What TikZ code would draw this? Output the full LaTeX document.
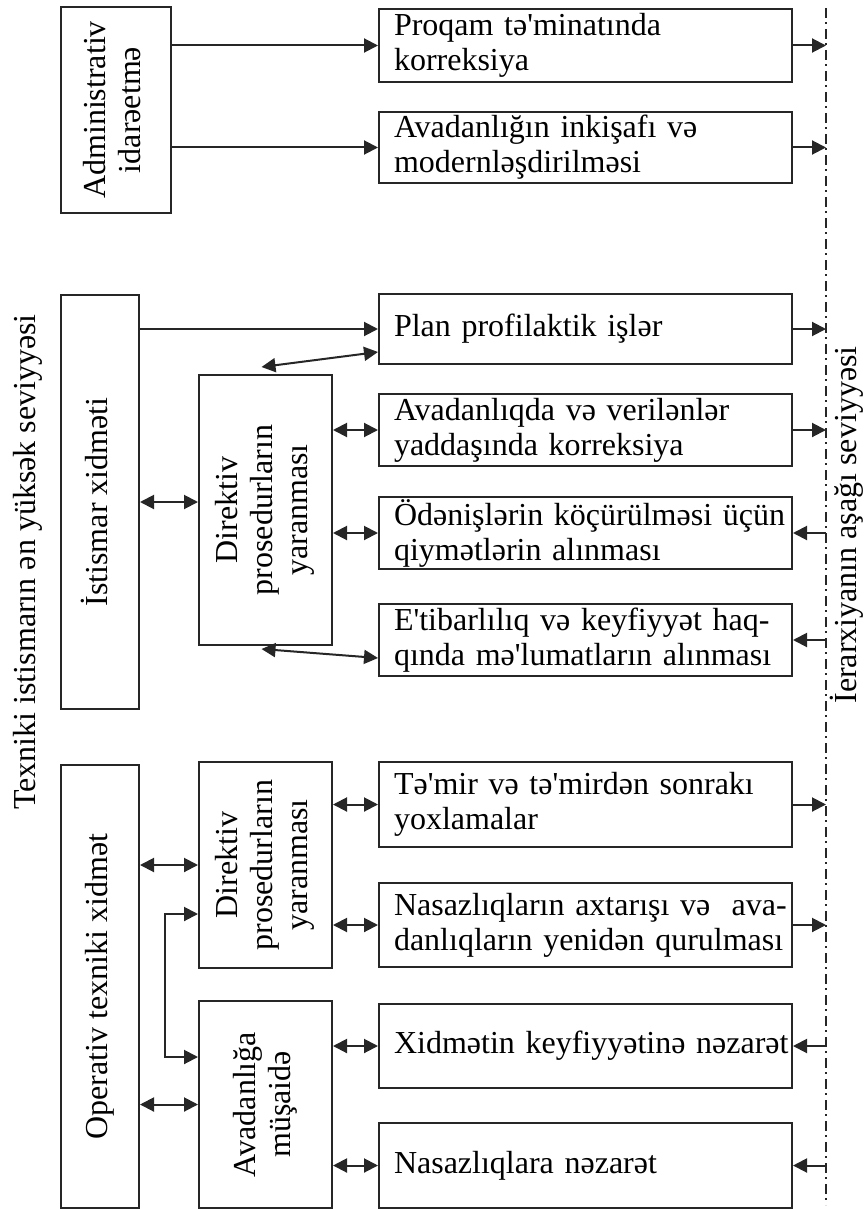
\documentclass[tikz,border=0pt]{standalone}
\usepackage{fontspec}
\usepackage{graphicx}
\setmainfont{Liberation Serif}[Ligatures=TeXOff]
\usetikzlibrary{arrows.meta,calc}
\definecolor{ink}{HTML}{262626}
\newcommand\Ln[1]{\mbox{#1}}
\newcommand\Vt[1]{\rotatebox{90}{\begin{tabular}{@{}c@{}}#1\end{tabular}}}
\begin{document}
\begin{tikzpicture}[x=1pt,y=-1pt,
  font=\fontsize{32}{35}\selectfont,
  box/.style={draw=ink, line width=2pt, inner sep=0pt},
  lbox/.style={box, anchor=north west},
  rbox/.style={box, anchor=north west, minimum width=413pt,
    text width=383pt, inner xsep=15pt, align=left},
  arr/.style={draw=ink, line width=2pt,
    -{Triangle[length=14pt,width=14pt]}},
  darr/.style={draw=ink, line width=2pt,
    {Triangle[length=14pt,width=14pt]}-{Triangle[length=14pt,width=14pt]}},
  level/.style={draw=ink, line width=2pt,
    dash pattern=on 10pt off 4pt on 2pt off 5pt}]
\useasboundingbox (0,0) rectangle (864,1209);

% side labels
\node[rotate=90, inner sep=0pt] (hi) at (28,562) {Texniki istismarın ən yüksək seviyyəsi};
\node[rotate=90, inner sep=0pt] (lo) at (847,525) {İerarxiyanın aşağı seviyyəsi};

% left column
\node[lbox, minimum width=110pt, minimum height=206pt] (adm) at (60,6)
  {\Vt{Administrativ\\idarəetmə}};
\node[lbox, minimum width=78pt, minimum height=414pt] (ist) at (60,294)
  {\Vt{İstismar xidməti}};
\node[lbox, minimum width=78pt, minimum height=443pt] (op) at (60,764)
  {\Vt{Operativ texniki xidmət}};

% middle column
\node[lbox, minimum width=133pt, minimum height=270pt] (dir1) at (198,374)
  {\Vt{Direktiv\\prosedurların\\yaranması}};
\node[lbox, minimum width=133pt, minimum height=206pt] (dir2) at (198,761)
  {\Vt{Direktiv\\prosedurların\\yaranması}};
\node[lbox, minimum width=133pt, minimum height=207pt] (ava) at (198,1000)
  {\Vt{Avadanlığa\\müşaidə}};

% right column
\node[rbox, minimum height=73pt] (r1) at (378,8)
  {\Ln{Proqam tə'minatında}\\korreksiya};
\node[rbox, minimum height=71pt] (r2) at (378,111)
  {\Ln{Avadanlığın inkişafı və}\\modernləşdirilməsi};
\node[rbox, minimum height=70pt] (r3) at (378,293)
  {\Ln{Plan profilaktik işlər}};
\node[rbox, minimum height=72pt] (r4) at (378,393)
  {\Ln{Avadanlıqda və verilənlər}\\\Ln{yaddaşında korreksiya}};
\node[rbox, minimum height=72pt] (r5) at (378,496)
  {\Ln{Ödənişlərin köçürülməsi üçün}\\\Ln{qiymətlərin alınması}};
\node[rbox, minimum height=72pt] (r6) at (378,603)
  {\Ln{E'tibarlılıq və keyfiyyət haq-}\\\Ln{qında mə'lumatların alınması}};
\node[rbox, minimum height=85pt] (r7) at (378,761)
  {\Ln{Tə'mir və tə'mirdən sonrakı}\\yoxlamalar};
\node[rbox, minimum height=84pt] (r8) at (378,882)
  {\Ln{Nasazlıqların axtarışı və\ \ ava-}\\\Ln{danlıqların yenidən qurulması}};
\node[rbox, minimum height=84pt] (r9) at (378,1003)
  {\Ln{Xidmətin keyfiyyətinə nəzarət}};
\node[rbox, minimum height=85pt] (r10) at (378,1122)
  {\Ln{Nasazlıqlara nəzarət}};

% hierarchy boundary line
\coordinate (dtop) at (826,8);
\coordinate (dbot) at (826,1205);
\draw[level] (dtop) -- (dbot);

% administrative control
\draw[arr] (adm.east |- r1.west) -- (r1.west);
\draw[arr] (adm.east |- r2.west) -- (r2.west);

% operation service
\draw[arr] (ist.east |- r3.west) -- (r3.west);
\draw[darr] (ist.east) -- (ist.east -| dir1.west);
\draw[darr] ([xshift=-4pt,yshift=7pt]dir1.north) -- ([yshift=13pt]r3.south west);
\draw[darr] (r4.west -| dir1.east) -- (r4.west);
\draw[darr] (r5.west -| dir1.east) -- (r5.west);
\draw[darr] ([xshift=-4pt,yshift=-3pt]dir1.south) -- ([yshift=-18pt]r6.west);

% operative technical service
\draw[darr] (dir2.west -| op.east) -- (dir2.west);
\draw[darr] (ava.west -| op.east) -- (ava.west);
\coordinate (ex) at (165,1000);
\coordinate (e1) at ([yshift=-49pt]dir2.west);
\coordinate (e2) at ([yshift=47.5pt]ava.west);
\draw[darr] (e1) -- (e1 -| ex) |- (e2);
\draw[darr] (r7.west -| dir2.east) -- (r7.west);
\draw[darr] (r8.west -| dir2.east) -- (r8.west);
\draw[darr] (r9.west -| ava.east) -- (r9.west);
\draw[darr] (r10.west -| ava.east) -- (r10.west);

% links to the lower level
\draw[arr] (r1.east) -- (r1.east -| dtop);
\draw[arr] (r2.east) -- (r2.east -| dtop);
\draw[arr] (r3.east) -- (r3.east -| dtop);
\draw[arr] (r4.east) -- (r4.east -| dtop);
\draw[arr] (r5.east -| dtop) -- (r5.east);
\draw[arr] (r6.east -| dtop) -- (r6.east);
\draw[arr] (r7.east) -- (r7.east -| dtop);
\draw[arr] (r8.east) -- (r8.east -| dtop);
\draw[arr] (r9.east -| dtop) -- (r9.east);
\draw[arr] (r10.east -| dtop) -- (r10.east);
\end{tikzpicture}
\end{document}
